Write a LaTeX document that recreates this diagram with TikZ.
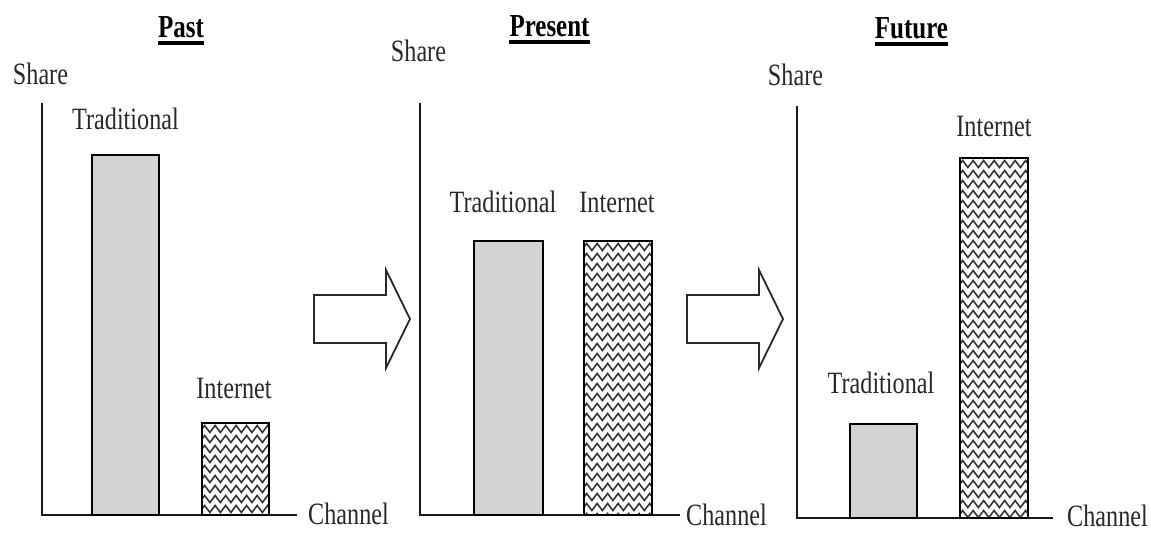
\documentclass[tikz,border=0pt]{standalone}
\usepackage{fontspec}
\setmainfont{Liberation Serif}[FakeStretch=0.78]
\usetikzlibrary{positioning,decorations.pathmorphing}

\definecolor{bargray}{RGB}{210,210,210}
\definecolor{inkgray}{RGB}{40,40,40}

% wavy hatching inside a bar: #1,#2 = top left, #3,#4 = bottom right
\newcommand{\netfill}[4]{%
  \begin{scope}
    \clip (#1,#2) rectangle (#3,#4);
    \foreach \k in {0,...,37}
      \draw[zig] (#1,#2+6+10*\k) -- (#3+12,#2+6+10*\k);
  \end{scope}}

\tikzset{
  pics/fatarrow/.style={code={
    \draw[arrowline] (0,-24) -- (72,-24) -- (72,-49) -- (96,0)
      -- (72,49) -- (72,24) -- (0,24) -- cycle;
  }}
}

\begin{document}
\begin{tikzpicture}[
	x = 1pt, y = -1pt,
	axis/.style = {line width=2.4pt, black!90},
	tradbar/.style = {draw=black, line width=2.6pt, fill=bargray},
	netbar/.style = {draw=black, line width=2.6pt},
	zig/.style = {line width=1.6pt, black!80, decorate,
		decoration={zigzag, segment length=10.5pt, amplitude=3.5pt}},
	arrowline/.style = {line width=1.8pt, inkgray, line join=miter},
	lbl/.style = {anchor=base, inner sep=0pt, text=inkgray,
		font=\fontsize{31}{36}\selectfont},
	title/.style = {lbl, text=black, font=\bfseries\fontsize{32}{38}\selectfont},
	uline/.style = {line width=3.5pt, black}
	]
	\useasboundingbox (0,0) rectangle (1151,537);

	% ---- past ----
	\node[title] (pastT) at (181,38) {Past};
	\draw[uline] ([yshift=-5pt]pastT.base west) -- ([yshift=-5pt]pastT.base east);
	\node[lbl] (pastShare) at (40.5,85) {Share};
	\draw[axis] (42,103) |- (297,515);
	\node[lbl] (pastChan) at (348.5,524) {Channel};
	\draw[tradbar] (92,155) rectangle (159,515);
	\node[lbl] (pastTrad) at (125.5,130) {Traditional};
	\netfill{202}{423}{269}{515}
	\draw[netbar] (202,423) rectangle (269,515);
	\node[lbl] (pastNet) at (234,398) {Internet};

	\pic at (314,319) {fatarrow};

	% ---- present ----
	\node[title] (presT) at (549.5,37) {Present};
	\draw[uline] ([yshift=-5pt]presT.base west) -- ([yshift=-5pt]presT.base east);
	\node[lbl] (presShare) at (418.5,62) {Share};
	\draw[axis] (420,103) |- (680,515);
	\node[lbl] (presChan) at (726.5,525) {Channel};
	\draw[tradbar] (474,241) rectangle (543,515);
	\node[lbl] (presTrad) at (503,213) {Traditional};
	\netfill{584}{241}{652}{515}
	\draw[netbar] (584,241) rectangle (652,515);
	\node[lbl] (presNet) at (617,213) {Internet};

	\pic at (687,319) {fatarrow};

	% ---- future ----
	\node[title] (futT) at (911.5,39) {Future};
	\draw[uline] ([yshift=-5pt]futT.base west) -- ([yshift=-5pt]futT.base east);
	\node[lbl] (futShare) at (795.5,86) {Share};
	\draw[axis] (797,106) |- (1053,518);
	\node[lbl] (futChan) at (1107.5,526) {Channel};
	\draw[tradbar] (850,424) rectangle (917,518);
	\node[lbl] (futTrad) at (881,393) {Traditional};
	\netfill{960}{158}{1028}{518}
	\draw[netbar] (960,158) rectangle (1028,518);
	\node[lbl] (futNet) at (994,137) {Internet};
\end{tikzpicture}
\end{document}
